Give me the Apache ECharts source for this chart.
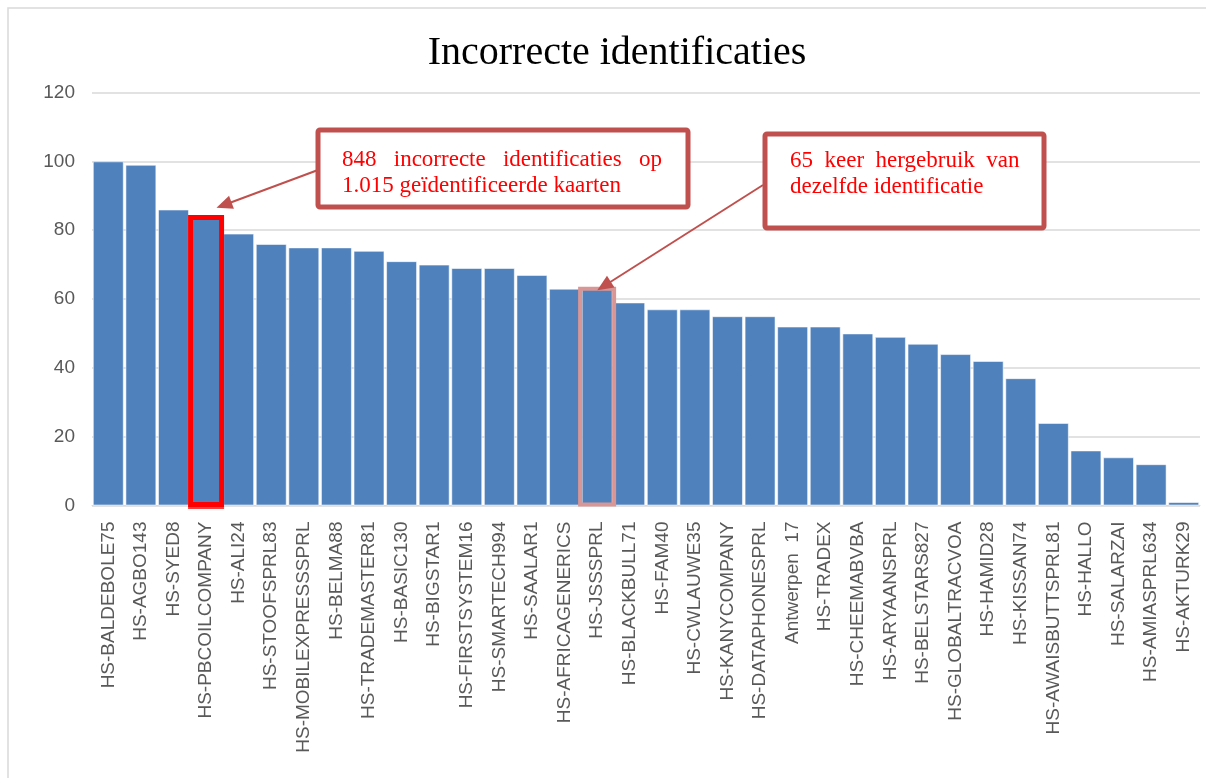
<!DOCTYPE html>
<html>
<head>
<meta charset="utf-8">
<script src="https://cdn.jsdelivr.net/npm/echarts@6/dist/echarts.min.js"></script>
<style>
html, body { margin: 0; padding: 0; background: #fff; }
#main { width: 1206px; height: 778px; }
</style>
</head>
<body>
<div id="main"></div>
<script>
// data
var categories = [
    'HS-BALDEBOLE75', 'HS-AGBO143', 'HS-SYED8', 'HS-PBCOILCOMPANY', 'HS-ALI24',
    'HS-STOOFSPRL83', 'HS-MOBILEXPRESSSPRL', 'HS-BELMA88', 'HS-TRADEMASTER81',
    'HS-BASIC130', 'HS-BIGSTAR1', 'HS-FIRSTSYSTEM16', 'HS-SMARTECH994', 'HS-SAALAR1',
    'HS-AFRICAGENERICS', 'HS-JSSSPRL', 'HS-BLACKBULL71', 'HS-FAM40', 'HS-CWLAUWE35',
    'HS-KANYCOMPANY', 'HS-DATAPHONESPRL', 'Antwerpen  17', 'HS-TRADEX', 'HS-CHEEMABVBA',
    'HS-ARYAANSPRL', 'HS-BELSTARS827', 'HS-GLOBALTRACVOA', 'HS-HAMID28', 'HS-KISSAN74',
    'HS-AWAISBUTTSPRL81', 'HS-HALLO', 'HS-SALARZAI', 'HS-AMIASPRL634', 'HS-AKTURK29'
];
var values = [
    100, 99, 86, 84, 79,
    76, 75, 75, 74,
    71, 70, 69, 69, 67,
    63, 63, 59, 57, 57,
    55, 55, 52, 52, 50,
    49, 47, 44, 42, 37,
    24, 16, 14, 12, 1
];
var yTicks = [0, 20, 40, 60, 80, 100, 120];
var highlightRed = 'HS-PBCOILCOMPANY';
var highlightPink = 'HS-JSSSPRL';
var note1 = ['848   incorrecte   identificaties   op', '1.015 geïdentificeerde kaarten'];
var note2 = ['65  keer  hergebruik  van', 'dezelfde identificatie'];

var boxColor = '#C0504D';

function noteBox(x, y, w, h, lines, tx, ty) {
    return {
        type: 'group',
        children: [{
            type: 'rect',
            shape: { x: x, y: y, width: w, height: h, r: 2 },
            style: { fill: '#fff', stroke: boxColor, lineWidth: 5 },
            z: 10
        }, {
            type: 'text',
            x: tx, y: ty,
            style: {
                text: lines.join('\n'),
                fill: '#FF0000',
                font: '23px "Liberation Serif", serif',
                lineHeight: 26
            },
            z: 11
        }]
    };
}

var chart = echarts.init(document.getElementById('main'));
var option = {
    animation: false,
    title: {
        text: 'Incorrecte identificaties',
        left: 612,
        top: 28,
        textAlign: 'center',
        textStyle: {
            color: '#000',
            fontFamily: '"Liberation Serif", serif',
            fontWeight: 'normal',
            fontSize: 40
        }
    },
    grid: { left: 92, right: 6, top: 92.5, bottom: 272.5 },
    xAxis: {
        type: 'category',
        data: categories,
        axisLine: { lineStyle: { color: '#D9D9D9' } },
        axisTick: { show: false },
        axisLabel: {
            interval: 0,
            rotate: 90,
            margin: 16,
            color: '#595959',
            fontFamily: '"Liberation Sans", sans-serif',
            fontSize: 19
        }
    },
    yAxis: {
        type: 'value',
        min: yTicks[0],
        max: yTicks[yTicks.length - 1],
        interval: 20,
        axisLine: { show: false },
        axisTick: { show: false },
        splitLine: { lineStyle: { color: '#D9D9D9', width: 1.5 } },
        axisLabel: {
            margin: 17,
            color: '#595959',
            fontFamily: '"Liberation Sans", sans-serif',
            fontSize: 19
        }
    },
    series: [{
        type: 'bar',
        data: values,
        barCategoryGap: '5%',
        itemStyle: {
            color: '#4F81BD',
            borderColor: 'rgba(255,255,255,0.55)',
            borderWidth: 1
        },
        markLine: {
            silent: true,
            symbol: ['none', 'triangle'],
            symbolSize: [14, 16],
            label: { show: false },
            lineStyle: { color: boxColor, width: 2, type: 'solid' },
            data: [
                [{ x: 318, y: 170 }, { x: 224, y: 205 }],
                [{ x: 763, y: 185 }, { x: 604, y: 286 }]
            ]
        }
    }],
    graphic: [
        {
            type: 'rect',
            shape: { x: 8, y: 8, width: 1260, height: 800 },
            style: { fill: null, stroke: '#D9D9D9', lineWidth: 1.5 },
            z: -1
        },
        noteBox(318, 130, 370, 77, note1, 342, 147),
        noteBox(765, 134, 279, 94, note2, 790, 148)
    ]
};
chart.setOption(option);

// highlight frames around two bars, placed from the axes
function frameFor(cat, color, lw, halfW, dy) {
    var i = categories.indexOf(cat);
    var cx = chart.convertToPixel({ xAxisIndex: 0 }, cat);
    var top = chart.convertToPixel({ yAxisIndex: 0 }, values[i]) + dy;
    var base = chart.convertToPixel({ yAxisIndex: 0 }, 0) - 1;
    return {
        type: 'rect',
        shape: { x: cx - halfW, y: top, width: halfW * 2, height: base - top },
        style: { fill: null, stroke: color, lineWidth: lw },
        z: 5
    };
}
var redFrame = frameFor(highlightRed, '#FF0000', 5, 15.5, 1);
var pinkFrame = frameFor(highlightPink, '#D99694', 4, 17, 0);
var redUnder = {
    type: 'line',
    shape: { x1: redFrame.shape.x - 2.5, y1: 508, x2: redFrame.shape.x + 33.5, y2: 508 },
    style: { stroke: '#FF0000', lineWidth: 1.5 },
    z: 5
};
option.graphic.push(redFrame, pinkFrame, redUnder);
chart.setOption({ graphic: option.graphic });
</script>
</body>
</html>
